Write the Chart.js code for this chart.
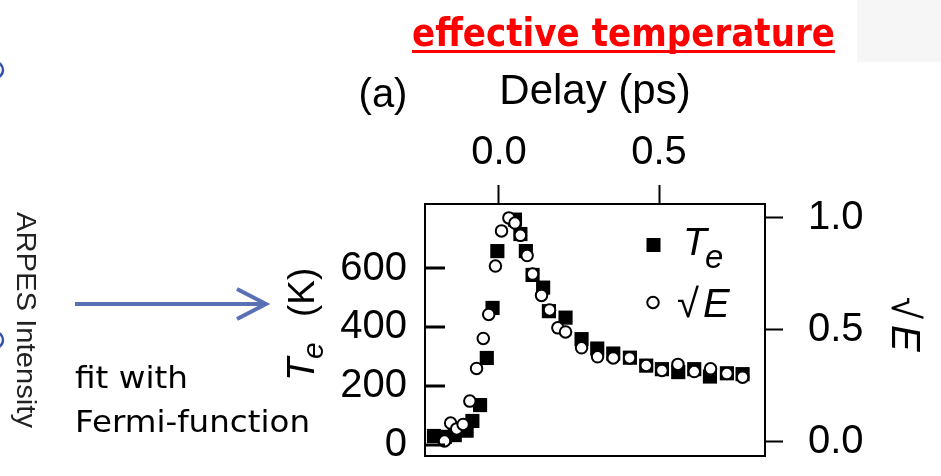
<!DOCTYPE html>
<html>
<head>
<meta charset="utf-8">
<title>Effective temperature</title>
<script src="https://cdn.jsdelivr.net/npm/chart.js@4.4.1/dist/chart.umd.min.js"></script>
<style>
  html, body { margin: 0; padding: 0; background: #fff; }
  #wrap { position: relative; width: 941px; height: 476px; }
</style>
</head>
<body>
<div id="wrap"><canvas id="chart" width="941" height="476"></canvas></div>
<script>
// Electron temperature from the Fermi-function fits (delay in ps, T in K)
const delayTe = [-0.203, -0.169, -0.138, -0.101, -0.083, -0.059, -0.038, -0.020, -0.005,
  0.050, 0.067, 0.084, 0.105, 0.138, 0.156, 0.208, 0.258, 0.307, 0.357, 0.409,
  0.460, 0.509, 0.560, 0.610, 0.659, 0.712, 0.761];
const tempTe = [31, 28, 34, 49, 82, 136, 296, 466, 659,
  766, 717, 659, 578, 535, 455, 433, 360, 328, 311, 297,
  270, 258, 248, 258, 233, 244, 241];

// Square root of the excess energy, normalised to its maximum
const delaySqrtE = [-0.170, -0.151, -0.132, -0.112, -0.091, -0.070, -0.049, -0.032, -0.011,
  0.008, 0.031, 0.050, 0.067, 0.088, 0.105, 0.133, 0.158, 0.184, 0.208, 0.258,
  0.308, 0.357, 0.408, 0.460, 0.509, 0.559, 0.610, 0.661, 0.712, 0.761];
const sqrtE = [0.003, 0.083, 0.057, 0.077, 0.181, 0.327, 0.461, 0.568, 0.784,
  0.941, 0.999, 0.976, 0.921, 0.831, 0.748, 0.653, 0.588, 0.508, 0.490, 0.419,
  0.379, 0.374, 0.374, 0.340, 0.318, 0.345, 0.313, 0.325, 0.304, 0.288];

const delayTicks = [0, 0.5];
const tempTicks = [0, 200, 400, 600];
const sqrtETicks = [0, 0.5, 1.0];

const FONT = '"Liberation Sans", Arial, Helvetica, sans-serif';
const SLIDE_FONT = '"DejaVu Sans", Verdana, Tahoma, sans-serif';

// squeeze or stretch a line of text to a given width
function fitText(ctx, text, x, y, width) {
    const w = ctx.measureText(text).width;
    ctx.save();
    ctx.translate(x, y);
    ctx.scale(width / w, 1);
    ctx.fillText(text, 0, 0);
    ctx.restore();
}

// fixed axis sizes, and no extra room for the end labels
const fixSize = (prop, size) => s => {
    s[prop] = size;
    s.paddingTop = 0;
    s.paddingBottom = 0;
    s.paddingLeft = 0;
    s.paddingRight = 0;
};

// slide heading, side notes and the arrow pointing at the T axis
const slideDecor = {
    id: 'slideDecor',
    beforeDraw(chart) {
        const ctx = chart.ctx;
        ctx.save();
        ctx.fillStyle = '#ffffff';
        ctx.fillRect(0, 0, chart.width, chart.height);
        ctx.fillStyle = '#f6f6f6';
        ctx.fillRect(857, 0, 84, 62);
        ctx.restore();
    },
    afterDraw(chart) {
        const ctx = chart.ctx;
        ctx.save();
        ctx.textAlign = 'left';
        ctx.textBaseline = 'alphabetic';

        // heading
        ctx.fillStyle = '#ff0000';
        ctx.font = 'bold 39px ' + SLIDE_FONT;
        fitText(ctx, 'effective temperature', 412, 46, 423);
        ctx.fillRect(412, 50, 423, 3);

        // bits of the neighbouring panel at the left edge
        ctx.strokeStyle = '#3352a8';
        ctx.lineWidth = 2.5;
        ctx.beginPath();
        ctx.arc(-5, 70, 8, -Math.PI / 2, Math.PI / 2);
        ctx.stroke();
        ctx.beginPath();
        ctx.arc(-5, 340, 8, -Math.PI / 2, Math.PI / 2);
        ctx.stroke();

        // rotated ARPES intensity label
        ctx.fillStyle = '#222222';
        ctx.font = '27px ' + FONT;
        ctx.save();
        ctx.translate(17, 212);
        ctx.rotate(Math.PI / 2);
        fitText(ctx, 'ARPES Intensity', 0, 0, 216);
        ctx.restore();

        // arrow
        ctx.strokeStyle = '#5a70b5';
        ctx.lineWidth = 4;
        ctx.lineCap = 'butt';
        ctx.lineJoin = 'miter';
        ctx.beginPath();
        ctx.moveTo(75, 304);
        ctx.lineTo(265, 304);
        ctx.stroke();
        ctx.beginPath();
        ctx.moveTo(237, 289);
        ctx.lineTo(266, 304);
        ctx.lineTo(237, 319);
        ctx.stroke();

        // note
        ctx.fillStyle = '#000000';
        ctx.font = '31px ' + SLIDE_FONT;
        fitText(ctx, 'fit with', 75, 388, 113);
        fitText(ctx, 'Fermi-function', 75, 432, 235);

        // panel label
        ctx.font = '40px ' + FONT;
        ctx.textAlign = 'center';
        ctx.fillText('(a)', 383, 107);
        ctx.restore();
    }
};

// closed frame, axis titles and the key
const plotFrame = {
    id: 'plotFrame',
    afterDraw(chart) {
        const ctx = chart.ctx;
        const area = chart.chartArea;
        ctx.save();
        ctx.strokeStyle = '#000000';
        ctx.lineWidth = 2;
        ctx.strokeRect(area.left, area.top, area.right - area.left, area.bottom - area.top);

        ctx.fillStyle = '#000000';
        ctx.textAlign = 'left';
        ctx.textBaseline = 'alphabetic';

        // left axis title: T_e (K)
        ctx.save();
        ctx.translate(314, 381);
        ctx.rotate(-Math.PI / 2);
        ctx.font = 'italic 38px ' + FONT;
        ctx.fillText('T', 0, 0);
        ctx.font = 'italic 30px ' + FONT;
        ctx.fillText('e', 22, 9);
        ctx.font = '37px ' + FONT;
        ctx.fillText('(K)', 64, 0);
        ctx.restore();

        // right axis title: sqrt(E)
        ctx.save();
        ctx.translate(892, 297);
        ctx.rotate(Math.PI / 2);
        ctx.font = '40px ' + FONT;
        ctx.fillText('\u221A', 0, 0);
        ctx.font = 'italic 40px ' + FONT;
        ctx.fillText('E', 28, 0);
        ctx.restore();

        // key
        ctx.fillRect(646.5, 238, 14, 14);
        ctx.font = 'italic 39px ' + FONT;
        ctx.fillText('T', 683, 255);
        ctx.font = 'italic 33px ' + FONT;
        ctx.fillText('e', 705, 268);

        ctx.beginPath();
        ctx.arc(653, 302.5, 5.75, 0, Math.PI * 2);
        ctx.fillStyle = '#ffffff';
        ctx.fill();
        ctx.lineWidth = 2;
        ctx.stroke();
        ctx.fillStyle = '#000000';
        ctx.font = '40px ' + FONT;
        ctx.fillText('\u221A', 677, 317);
        ctx.font = 'italic 40px ' + FONT;
        ctx.fillText('E', 703, 317);
        ctx.restore();
    }
};

// tick marks of the T axis point into the plot
const innerTicks = {
    id: 'innerTicks',
    afterDraw(chart) {
        const ctx = chart.ctx;
        const area = chart.chartArea;
        const yScale = chart.scales.y;
        ctx.save();
        ctx.fillStyle = '#000000';
        tempTicks.forEach(v => {
            const py = Math.round(yScale.getPixelForValue(v));
            ctx.fillRect(area.left - 1, py - 1.5, 21, 3);
        });
        ctx.restore();
    }
};

const toPoints = (xs, ys) => xs.map((x, i) => ({ x: x, y: ys[i] }));

new Chart(document.getElementById('chart'), {
    type: 'scatter',
    data: {
        datasets: [
            {
                label: '\u221AE',
                data: toPoints(delaySqrtE, sqrtE),
                yAxisID: 'y2',
                pointStyle: 'circle',
                pointRadius: 5.75,
                pointHoverRadius: 5.75,
                pointBackgroundColor: '#ffffff',
                pointBorderColor: '#000000',
                pointBorderWidth: 2,
                pointHoverBorderWidth: 2,
                order: 0
            },
            {
                label: 'Te',
                data: toPoints(delayTe, tempTe),
                yAxisID: 'y',
                pointStyle: 'rect',
                pointRadius: 10,
                pointHoverRadius: 10,
                pointBackgroundColor: '#000000',
                pointBorderColor: '#000000',
                pointBorderWidth: 0,
                order: 1
            }
        ]
    },
    options: {
        responsive: false,
        animation: false,
        events: [],
        layout: { padding: { left: 0, top: 0, right: 0, bottom: 20 } },
        plugins: {
            legend: { display: false },
            tooltip: { enabled: false }
        },
        scales: {
            x: {
                type: 'linear',
                position: 'top',
                min: -0.231,
                max: 0.831,
                afterBuildTicks: s => { s.ticks = delayTicks.map(v => ({ value: v })); },
                afterFit: fixSize('height', 204),
                grid: { drawOnChartArea: false, tickLength: 19, tickWidth: 2, tickColor: '#000' },
                border: { display: true, color: '#000', width: 2 },
                ticks: {
                    color: '#000',
                    font: { family: FONT, size: 40 },
                    padding: 8,
                    maxRotation: 0,
                    autoSkip: false,
                    callback: v => v.toFixed(1)
                },
                title: {
                    display: true,
                    text: 'Delay (ps)',
                    color: '#000',
                    font: { family: FONT, size: 42 },
                    padding: { top: 67, bottom: 0 }
                }
            },
            y: {
                type: 'linear',
                position: 'left',
                min: -37,
                max: 819,
                afterBuildTicks: s => { s.ticks = tempTicks.map(v => ({ value: v })); },
                afterFit: fixSize('width', 425),
                grid: { display: false },
                border: { display: true, color: '#000', width: 2 },
                ticks: {
                    color: '#000',
                    font: { family: FONT, size: 40 },
                    padding: 10,
                    autoSkip: false
                }
            },
            y2: {
                type: 'linear',
                position: 'right',
                min: -0.064,
                max: 1.061,
                afterBuildTicks: s => { s.ticks = sqrtETicks.map(v => ({ value: v })); },
                afterFit: fixSize('width', 176),
                grid: { drawOnChartArea: false, tickLength: 18, tickWidth: 2, tickColor: '#000' },
                border: { display: true, color: '#000', width: 2 },
                ticks: {
                    color: '#000',
                    font: { family: FONT, size: 40 },
                    padding: 25,
                    autoSkip: false,
                    callback: v => v.toFixed(1)
                }
            }
        }
    },
    plugins: [slideDecor, plotFrame, innerTicks]
});
</script>
</body>
</html>
